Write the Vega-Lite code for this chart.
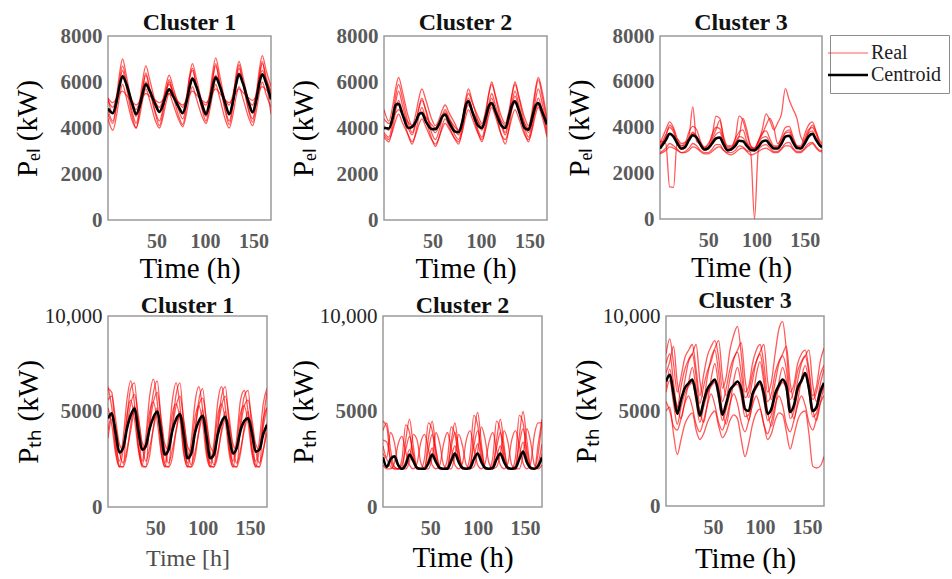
{
  "$schema": "https://vega.github.io/schema/vega-lite/v6.json",
  "padding": {"left": 12, "top": 10, "right": 0, "bottom": 0},
  "background": "white",
  "config": {
    "font": "Liberation Serif",
    "view": {"stroke": "#9a9a9a", "strokeWidth": 1.5},
    "axis": {"domain": false, "ticks": false, "grid": false, "labelFont": "Liberation Serif", "labelFontSize": 21, "labelFontWeight": "bold", "labelColor": "#5a5a5a", "labelPadding": 6, "titleFont": "Liberation Serif", "titleFontSize": 29, "titleFontWeight": "normal", "titleColor": "#000000"},
    "axisX": {"labelPadding": 11, "labelFontSize": 20, "titleY": 34},
    "axisY": {"titleX": -66},
    "title": {"font": "Liberation Serif", "fontSize": 24, "fontWeight": "bold", "color": "#111111", "frame": "group", "offset": -10},
    "legend": {"orient": "none", "legendX": 722, "legendY": -1, "symbolType": "stroke", "symbolSize": 1600, "labelFont": "Liberation Serif", "labelFontSize": 20, "labelColor": "#222222", "strokeColor": "#8c8c8c", "padding": 8, "rowPadding": 2, "labelOffset": 13, "fillColor": "white"}
  },
  "datasets": {
    "el1": [
      {"t":0,"c":4850,"a":5300,"b":4800,"d":5200,"e":4400,"f":5300,"g":4600},
      {"t":5,"c":4650,"a":4600,"b":4300,"d":4900,"e":3900,"f":5100,"g":4200},
      {"t":9,"c":5200,"a":5440,"b":5140,"d":5390,"e":4600,"f":5280,"g":5000},
      {"t":12,"c":5850,"a":6400,"b":6100,"d":5950,"e":5400,"f":5480,"g":5930},
      {"t":15,"c":6250,"a":7000,"b":6700,"d":6300,"e":5900,"f":5600,"g":6500},
      {"t":19,"c":5900,"a":6250,"b":5980,"d":5850,"e":5300,"f":5420,"g":5750},
      {"t":25,"c":5050,"a":5000,"b":4700,"d":5100,"e":4300,"f":5150,"g":4500},
      {"t":29,"c":4600,"a":4500,"b":4200,"d":4800,"e":4000,"f":5000,"g":4000},
      {"t":33,"c":5000,"a":5270,"b":4940,"d":5220,"e":4600,"f":5180,"g":4840},
      {"t":36,"c":5550,"a":6150,"b":5780,"d":5700,"e":5280,"f":5380,"g":5800},
      {"t":39,"c":5900,"a":6700,"b":6300,"d":6000,"e":5700,"f":5500,"g":6400},
      {"t":43,"c":5600,"a":6100,"b":5700,"d":5700,"e":5200,"f":5380,"g":5680},
      {"t":49,"c":5000,"a":5100,"b":4680,"d":5100,"e":4300,"f":5200,"g":4600},
      {"t":53,"c":4700,"a":4700,"b":4300,"d":4900,"e":4000,"f":5100,"g":4100},
      {"t":57,"c":5050,"a":5260,"b":4920,"d":5250,"e":4530,"f":5240,"g":4770},
      {"t":60,"c":5450,"a":5900,"b":5650,"d":5650,"e":5130,"f":5400,"g":5530},
      {"t":63,"c":5680,"a":6300,"b":6100,"d":5900,"e":5500,"f":5500,"g":6000},
      {"t":67,"c":5400,"a":5790,"b":5530,"d":5600,"e":5050,"f":5350,"g":5420},
      {"t":73,"c":4900,"a":4940,"b":4760,"d":5100,"e":4350,"f":5100,"g":4500},
      {"t":77,"c":4650,"a":4600,"b":4400,"d":4900,"e":4050,"f":5000,"g":4150},
      {"t":81,"c":5150,"a":5370,"b":5140,"d":5350,"e":4660,"f":5210,"g":5000},
      {"t":84,"c":5750,"a":6250,"b":6180,"d":5880,"e":5360,"f":5450,"g":6090},
      {"t":87,"c":6150,"a":6800,"b":6500,"d":6200,"e":5800,"f":5600,"g":6600},
      {"t":91,"c":5800,"a":6170,"b":5900,"d":5840,"e":5300,"f":5450,"g":5870},
      {"t":97,"c":5000,"a":5120,"b":4900,"d":5150,"e":4500,"f":5200,"g":4800},
      {"t":101,"c":4600,"a":4700,"b":4500,"d":5000,"e":4200,"f":5100,"g":4300},
      {"t":105,"c":5150,"a":5520,"b":5230,"d":5450,"e":4800,"f":5310,"g":5180},
      {"t":108,"c":5800,"a":6460,"b":6150,"d":5980,"e":5480,"f":5550,"g":6180},
      {"t":111,"c":6200,"a":7050,"b":6700,"d":6300,"e":5900,"f":5700,"g":6800},
      {"t":115,"c":5850,"a":6320,"b":6000,"d":5900,"e":5330,"f":5520,"g":5990},
      {"t":121,"c":5050,"a":5090,"b":4800,"d":5200,"e":4350,"f":5200,"g":4700},
      {"t":125,"c":4600,"a":4600,"b":4300,"d":5000,"e":4000,"f":5100,"g":4150},
      {"t":129,"c":5200,"a":5400,"b":5100,"d":5490,"e":4630,"f":5310,"g":5060},
      {"t":132,"c":5900,"a":6330,"b":6020,"d":6050,"e":5350,"f":5550,"g":6100},
      {"t":135,"c":6330,"a":6900,"b":6600,"d":6400,"e":5800,"f":5700,"g":6750},
      {"t":139,"c":5950,"a":6240,"b":5940,"d":6000,"e":5300,"f":5550,"g":5960},
      {"t":145,"c":5100,"a":5140,"b":4800,"d":5200,"e":4450,"f":5300,"g":4750},
      {"t":149,"c":4680,"a":4700,"b":4400,"d":5000,"e":4100,"f":5200,"g":4250},
      {"t":153,"c":5250,"a":5560,"b":5240,"d":5520,"e":4770,"f":5410,"g":5180},
      {"t":156,"c":5950,"a":6540,"b":6220,"d":6130,"e":5520,"f":5650,"g":6240},
      {"t":159,"c":6330,"a":7150,"b":6800,"d":6500,"e":6000,"f":5800,"g":6900},
      {"t":163,"c":5950,"a":6500,"b":6200,"d":6100,"e":5450,"f":5650,"g":6000},
      {"t":168,"c":5240,"a":5800,"b":5500,"d":5600,"e":4900,"f":5500,"g":4600}
    ],
    "el2": [
      {"t":0,"c":4000,"a":4800,"b":3800,"d":4400,"e":3700,"f":4100,"g":3600},
      {"t":5,"c":3980,"a":4300,"b":3600,"d":4200,"e":3500,"f":3900,"g":3400},
      {"t":9,"c":4450,"a":4960,"b":4300,"d":4410,"e":3890,"f":4600,"g":4030},
      {"t":12,"c":5000,"a":5720,"b":5100,"d":4650,"e":4330,"f":5400,"g":4750},
      {"t":15,"c":5050,"a":6200,"b":5600,"d":4800,"e":4600,"f":5900,"g":5200},
      {"t":19,"c":4600,"a":5590,"b":4990,"d":4600,"e":4230,"f":5300,"g":4650},
      {"t":25,"c":4000,"a":4500,"b":4000,"d":4250,"e":3700,"f":4200,"g":3670},
      {"t":29,"c":4050,"a":4100,"b":3700,"d":4100,"e":3400,"f":3800,"g":3300},
      {"t":33,"c":4300,"a":4660,"b":4260,"d":4310,"e":3750,"f":4290,"g":3860},
      {"t":36,"c":4600,"a":5300,"b":4900,"d":4550,"e":4150,"f":4850,"g":4500},
      {"t":39,"c":4650,"a":5700,"b":5300,"d":4700,"e":4400,"f":5200,"g":4900},
      {"t":43,"c":4300,"a":5240,"b":4760,"d":4490,"e":4070,"f":4800,"g":4390},
      {"t":49,"c":3960,"a":4400,"b":3800,"d":4150,"e":3500,"f":4000,"g":3560},
      {"t":53,"c":3950,"a":4100,"b":3500,"d":4000,"e":3300,"f":3800,"g":3200},
      {"t":57,"c":4200,"a":4410,"b":3920,"d":4210,"e":3620,"f":4150,"g":3620},
      {"t":60,"c":4500,"a":4780,"b":4400,"d":4450,"e":3980,"f":4550,"g":4100},
      {"t":63,"c":4580,"a":5000,"b":4700,"d":4600,"e":4200,"f":4800,"g":4400},
      {"t":67,"c":4250,"a":4670,"b":4340,"d":4390,"e":3960,"f":4470,"g":4070},
      {"t":73,"c":3850,"a":4200,"b":3700,"d":4050,"e":3550,"f":3900,"g":3520},
      {"t":77,"c":3820,"a":3900,"b":3500,"d":3900,"e":3400,"f":3700,"g":3300},
      {"t":81,"c":4300,"a":4460,"b":4130,"d":4290,"e":3890,"f":4400,"g":3970},
      {"t":84,"c":4950,"a":5100,"b":4850,"d":4730,"e":4450,"f":5200,"g":4730},
      {"t":87,"c":5160,"a":5500,"b":5300,"d":5000,"e":4800,"f":5700,"g":5200},
      {"t":91,"c":4700,"a":5100,"b":4790,"d":4730,"e":4400,"f":5160,"g":4660},
      {"t":97,"c":4100,"a":4500,"b":3900,"d":4300,"e":3750,"f":4300,"g":3780},
      {"t":101,"c":4000,"a":4200,"b":3600,"d":4100,"e":3500,"f":3900,"g":3400},
      {"t":105,"c":4500,"a":4800,"b":4270,"d":4420,"e":3990,"f":4640,"g":4070},
      {"t":108,"c":4950,"a":5480,"b":5030,"d":4780,"e":4550,"f":5480,"g":4830},
      {"t":111,"c":5090,"a":5900,"b":5500,"d":5000,"e":4900,"f":6000,"g":5300},
      {"t":115,"c":4700,"a":5390,"b":4960,"d":4730,"e":4480,"f":5340,"g":4700},
      {"t":121,"c":4100,"a":4500,"b":4100,"d":4300,"e":3700,"f":4200,"g":3700},
      {"t":125,"c":4000,"a":4200,"b":3700,"d":4100,"e":3500,"f":3800,"g":3300},
      {"t":129,"c":4550,"a":4800,"b":4370,"d":4450,"e":3960,"f":4570,"g":4040},
      {"t":132,"c":5000,"a":5480,"b":5130,"d":4850,"e":4480,"f":5450,"g":4880},
      {"t":135,"c":5160,"a":5900,"b":5600,"d":5100,"e":4800,"f":6000,"g":5400},
      {"t":139,"c":4750,"a":5370,"b":5000,"d":4800,"e":4410,"f":5340,"g":4800},
      {"t":145,"c":4000,"a":4450,"b":4000,"d":4200,"e":3700,"f":4200,"g":3780},
      {"t":149,"c":3930,"a":4100,"b":3600,"d":4000,"e":3500,"f":3800,"g":3400},
      {"t":153,"c":4500,"a":4840,"b":4340,"d":4350,"e":3990,"f":4610,"g":4070},
      {"t":156,"c":4950,"a":5680,"b":5180,"d":4750,"e":4550,"f":5530,"g":4830},
      {"t":159,"c":5090,"a":6200,"b":5700,"d":5000,"e":4900,"f":6100,"g":5300},
      {"t":163,"c":4700,"a":5600,"b":5070,"d":4700,"e":4480,"f":5400,"g":4750},
      {"t":168,"c":4150,"a":4400,"b":3900,"d":4300,"e":3600,"f":4200,"g":3700}
    ],
    "el3": [
      {"t":0,"c":3080,"a":3400,"b":3200,"d":2900,"e":3300,"f":2850,"g":3100},
      {"t":6,"c":3450,"a":3300,"b":3600,"d":3100,"e":3900,"f":3000,"g":3700},
      {"t":10,"c":3730,"a":1400,"b":4100,"d":3300,"e":4250,"f":3150,"g":4000},
      {"t":14,"c":3600,"a":1380,"b":3900,"d":3200,"e":4000,"f":3100,"g":3800},
      {"t":18,"c":3300,"a":3500,"b":3400,"d":3050,"e":3500,"f":3000,"g":3300},
      {"t":22,"c":3080,"a":3300,"b":3200,"d":2900,"e":3200,"f":2900,"g":3050},
      {"t":26,"c":3150,"a":3350,"b":3200,"d":2950,"e":3300,"f":2900,"g":3100},
      {"t":30,"c":3450,"a":3600,"b":3500,"d":3100,"e":3800,"f":3000,"g":3500},
      {"t":34,"c":3660,"a":4900,"b":3800,"d":3300,"e":4050,"f":3150,"g":3750},
      {"t":38,"c":3550,"a":3400,"b":3600,"d":3200,"e":3900,"f":3100,"g":3600},
      {"t":42,"c":3250,"a":3300,"b":3300,"d":3000,"e":3400,"f":2950,"g":3200},
      {"t":46,"c":3040,"a":3100,"b":3100,"d":2900,"e":3150,"f":2850,"g":3000},
      {"t":50,"c":3100,"a":3100,"b":3300,"d":2900,"e":3200,"f":2850,"g":3050},
      {"t":54,"c":3300,"a":3400,"b":3600,"d":3050,"e":3700,"f":2950,"g":3500},
      {"t":58,"c":3520,"a":3700,"b":4500,"d":3250,"e":4000,"f":3100,"g":3900},
      {"t":62,"c":3560,"a":3800,"b":4400,"d":3250,"e":3950,"f":3150,"g":4300},
      {"t":66,"c":3250,"a":3300,"b":3600,"d":3000,"e":3450,"f":3000,"g":3500},
      {"t":70,"c":3000,"a":3100,"b":3200,"d":2900,"e":3150,"f":2850,"g":3050},
      {"t":74,"c":3050,"a":3100,"b":3200,"d":2900,"e":3150,"f":2800,"g":3000},
      {"t":78,"c":3200,"a":3350,"b":3500,"d":3000,"e":3500,"f":2900,"g":3300},
      {"t":82,"c":3420,"a":3600,"b":4500,"d":3200,"e":3800,"f":3050,"g":3600},
      {"t":86,"c":3400,"a":3550,"b":4300,"d":3150,"e":3900,"f":3100,"g":4400},
      {"t":90,"c":3200,"a":3300,"b":3700,"d":3000,"e":3400,"f":2950,"g":3900},
      {"t":94,"c":3020,"a":3100,"b":3200,"d":2900,"e":3100,"f":2800,"g":3200},
      {"t":98,"c":3000,"a":3050,"b":3100,"d":0,"e":3100,"f":2850,"g":3050},
      {"t":102,"c":3150,"a":3300,"b":3400,"d":3000,"e":3400,"f":2950,"g":3400},
      {"t":106,"c":3380,"a":3550,"b":3900,"d":3200,"e":3750,"f":3050,"g":3700},
      {"t":110,"c":3430,"a":3600,"b":4600,"d":3250,"e":3850,"f":3100,"g":4100},
      {"t":114,"c":3250,"a":3350,"b":4300,"d":3100,"e":3500,"f":3000,"g":4400},
      {"t":118,"c":3080,"a":3150,"b":3900,"d":2950,"e":3200,"f":2900,"g":4000},
      {"t":122,"c":3080,"a":3150,"b":4200,"d":2950,"e":3200,"f":2900,"g":3300},
      {"t":126,"c":3300,"a":3400,"b":4600,"d":3100,"e":3600,"f":3050,"g":3500},
      {"t":130,"c":3600,"a":3750,"b":5700,"d":3300,"e":4000,"f":3200,"g":3800},
      {"t":134,"c":3640,"a":3800,"b":5200,"d":3350,"e":4050,"f":3200,"g":3900},
      {"t":138,"c":3350,"a":3400,"b":4800,"d":3100,"e":3600,"f":3050,"g":3500},
      {"t":142,"c":3100,"a":3150,"b":4400,"d":2950,"e":3200,"f":2900,"g":3200},
      {"t":146,"c":3080,"a":3150,"b":3600,"d":2950,"e":3200,"f":2900,"g":3100},
      {"t":150,"c":3300,"a":3400,"b":3400,"d":3100,"e":3700,"f":3050,"g":3500},
      {"t":154,"c":3600,"a":3750,"b":3800,"d":3300,"e":4100,"f":3200,"g":3900},
      {"t":158,"c":3720,"a":3850,"b":4100,"d":3350,"e":4250,"f":3300,"g":4000},
      {"t":162,"c":3450,"a":3500,"b":3800,"d":3150,"e":3800,"f":3100,"g":3700},
      {"t":166,"c":3200,"a":3250,"b":3400,"d":3000,"e":3300,"f":2950,"g":3200},
      {"t":168,"c":3150,"a":3200,"b":3300,"d":3000,"e":3200,"f":2950,"g":3100}
    ],
    "th1": [
      {"t":0,"c":4640,"a":6200,"b":5200,"d":3600,"e":5600,"f":4000,"g":6300},
      {"t":4,"c":4900,"a":6000,"b":4300,"d":4600,"e":5800,"f":4800,"g":5200},
      {"t":8,"c":3900,"a":3800,"b":2800,"d":4200,"e":4600,"f":3000,"g":3300},
      {"t":12,"c":2850,"a":2150,"b":2100,"d":2900,"e":3300,"f":2100,"g":2400},
      {"t":16,"c":3100,"a":2100,"b":3000,"d":2300,"e":3000,"f":2100,"g":3600},
      {"t":20,"c":4100,"a":4600,"b":4800,"d":3000,"e":4200,"f":2800,"g":5600},
      {"t":24,"c":4800,"a":6200,"b":5600,"d":4000,"e":5400,"f":4300,"g":6600},
      {"t":28,"c":5150,"a":6500,"b":4600,"d":5000,"e":5900,"f":5300,"g":5400},
      {"t":32,"c":4000,"a":4300,"b":3000,"d":4600,"e":4800,"f":3200,"g":3300},
      {"t":36,"c":3000,"a":2200,"b":2200,"d":3200,"e":3400,"f":2100,"g":2400},
      {"t":40,"c":3200,"a":2100,"b":3300,"d":2400,"e":3100,"f":2100,"g":3700},
      {"t":44,"c":4100,"a":4500,"b":5000,"d":3100,"e":4300,"f":2700,"g":5800},
      {"t":48,"c":4700,"a":6000,"b":5500,"d":4100,"e":5500,"f":4200,"g":6700},
      {"t":52,"c":5000,"a":6600,"b":4500,"d":4900,"e":6000,"f":5200,"g":5500},
      {"t":56,"c":3900,"a":4500,"b":2900,"d":4400,"e":4700,"f":3000,"g":3400},
      {"t":60,"c":2750,"a":2200,"b":2100,"d":3000,"e":3300,"f":2100,"g":2300},
      {"t":64,"c":3000,"a":2100,"b":3200,"d":2300,"e":3000,"f":2100,"g":3600},
      {"t":68,"c":4000,"a":4300,"b":4900,"d":3000,"e":4200,"f":2600,"g":5600},
      {"t":72,"c":4600,"a":5900,"b":5400,"d":4000,"e":5300,"f":4000,"g":6500},
      {"t":76,"c":4850,"a":6500,"b":4600,"d":4800,"e":5800,"f":5000,"g":5300},
      {"t":80,"c":3800,"a":4300,"b":2800,"d":4400,"e":4600,"f":2900,"g":3200},
      {"t":84,"c":2550,"a":2150,"b":2100,"d":3000,"e":3200,"f":2100,"g":2300},
      {"t":88,"c":2800,"a":2100,"b":3000,"d":2200,"e":2900,"f":2100,"g":3500},
      {"t":92,"c":3900,"a":4000,"b":4700,"d":2900,"e":4100,"f":2600,"g":5500},
      {"t":96,"c":4500,"a":5600,"b":5300,"d":3900,"e":5300,"f":4000,"g":6300},
      {"t":100,"c":4780,"a":6200,"b":4400,"d":4700,"e":5700,"f":5100,"g":5100},
      {"t":104,"c":3700,"a":4200,"b":2700,"d":4300,"e":4600,"f":3000,"g":3100},
      {"t":108,"c":2550,"a":2150,"b":2100,"d":2900,"e":3200,"f":2100,"g":2300},
      {"t":112,"c":2750,"a":2100,"b":3100,"d":2200,"e":2900,"f":2100,"g":3400},
      {"t":116,"c":3800,"a":4200,"b":4800,"d":2900,"e":4100,"f":2700,"g":5500},
      {"t":120,"c":4450,"a":5800,"b":5400,"d":3900,"e":5300,"f":4100,"g":6300},
      {"t":124,"c":4720,"a":6300,"b":4500,"d":4600,"e":5800,"f":5000,"g":5200},
      {"t":128,"c":3700,"a":4200,"b":2800,"d":4300,"e":4700,"f":3100,"g":3200},
      {"t":132,"c":2800,"a":2200,"b":2100,"d":3000,"e":3300,"f":2100,"g":2400},
      {"t":136,"c":3100,"a":2100,"b":3200,"d":2300,"e":3000,"f":2100,"g":3600},
      {"t":140,"c":4000,"a":4400,"b":4900,"d":3000,"e":4200,"f":2800,"g":5600},
      {"t":144,"c":4500,"a":5800,"b":5300,"d":4000,"e":5300,"f":4200,"g":6100},
      {"t":148,"c":4640,"a":6100,"b":4400,"d":4700,"e":5600,"f":5000,"g":5000},
      {"t":152,"c":3900,"a":4000,"b":2800,"d":4300,"e":4600,"f":3100,"g":3100},
      {"t":156,"c":2900,"a":2200,"b":2100,"d":3000,"e":3300,"f":2100,"g":2400},
      {"t":160,"c":3000,"a":2100,"b":3000,"d":2300,"e":3000,"f":2100,"g":3500},
      {"t":164,"c":3800,"a":4500,"b":4600,"d":3000,"e":4200,"f":2900,"g":5400},
      {"t":168,"c":4300,"a":6000,"b":5200,"d":3900,"e":5200,"f":4400,"g":6200}
    ],
    "th2": [
      {"t":0,"c":2600,"a":4500,"b":3200,"d":3500,"e":2200,"f":2800,"g":4000},
      {"t":4,"c":2100,"a":4200,"b":2600,"d":3400,"e":2000,"f":2500,"g":4400},
      {"t":8,"c":2500,"a":2400,"b":3900,"d":2500,"e":2000,"f":2100,"g":3000},
      {"t":12,"c":2650,"a":2000,"b":3400,"d":2100,"e":2300,"f":2000,"g":2100},
      {"t":16,"c":2200,"a":2000,"b":2200,"d":2000,"e":3300,"f":2000,"g":2000},
      {"t":20,"c":2000,"a":2000,"b":2000,"d":2200,"e":3700,"f":2000,"g":2500},
      {"t":24,"c":2200,"a":3500,"b":2000,"d":3000,"e":2900,"f":2400,"g":4300},
      {"t":28,"c":2750,"a":4600,"b":2400,"d":3700,"e":2200,"f":3000,"g":3900},
      {"t":32,"c":2400,"a":3200,"b":3800,"d":2800,"e":2000,"f":2400,"g":2600},
      {"t":36,"c":2050,"a":2000,"b":3500,"d":2100,"e":2300,"f":2000,"g":2000},
      {"t":40,"c":2000,"a":2000,"b":2300,"d":2000,"e":3400,"f":2000,"g":2000},
      {"t":44,"c":2000,"a":2000,"b":2000,"d":2100,"e":3800,"f":2000,"g":2600},
      {"t":48,"c":2300,"a":3600,"b":2000,"d":3000,"e":3000,"f":2500,"g":4400},
      {"t":52,"c":2750,"a":4500,"b":2600,"d":3800,"e":2200,"f":3100,"g":4000},
      {"t":56,"c":2350,"a":3000,"b":3900,"d":2900,"e":2000,"f":2400,"g":2600},
      {"t":60,"c":2050,"a":2000,"b":3300,"d":2100,"e":2200,"f":2000,"g":2000},
      {"t":64,"c":2000,"a":2000,"b":2200,"d":2000,"e":3300,"f":2000,"g":2000},
      {"t":68,"c":2000,"a":2000,"b":2000,"d":2100,"e":3900,"f":2000,"g":2500},
      {"t":72,"c":2400,"a":3400,"b":2000,"d":3100,"e":3100,"f":2600,"g":4200},
      {"t":76,"c":2800,"a":4400,"b":2700,"d":3900,"e":2200,"f":3200,"g":3800},
      {"t":80,"c":2350,"a":3000,"b":3800,"d":2900,"e":2000,"f":2500,"g":2500},
      {"t":84,"c":2050,"a":2000,"b":3200,"d":2100,"e":2300,"f":2000,"g":2000},
      {"t":88,"c":2000,"a":2000,"b":2200,"d":2000,"e":3500,"f":2000,"g":2000},
      {"t":92,"c":2050,"a":2100,"b":2000,"d":2200,"e":4000,"f":2000,"g":2700},
      {"t":96,"c":2500,"a":3800,"b":2100,"d":3200,"e":3100,"f":2600,"g":4800},
      {"t":100,"c":2800,"a":4950,"b":2900,"d":4000,"e":2200,"f":3300,"g":4300},
      {"t":104,"c":2350,"a":3300,"b":4200,"d":3000,"e":2000,"f":2500,"g":2700},
      {"t":108,"c":2050,"a":2000,"b":3500,"d":2100,"e":2300,"f":2000,"g":2000},
      {"t":112,"c":2000,"a":2000,"b":2300,"d":2000,"e":3400,"f":2000,"g":2000},
      {"t":116,"c":2050,"a":2000,"b":2000,"d":2200,"e":3900,"f":2000,"g":2600},
      {"t":120,"c":2500,"a":3500,"b":2100,"d":3100,"e":3000,"f":2600,"g":4500},
      {"t":124,"c":2800,"a":4600,"b":2800,"d":3900,"e":2200,"f":3200,"g":4000},
      {"t":128,"c":2350,"a":3200,"b":4000,"d":2900,"e":2000,"f":2500,"g":2600},
      {"t":132,"c":2050,"a":2000,"b":3400,"d":2100,"e":2300,"f":2000,"g":2000},
      {"t":136,"c":2000,"a":2000,"b":2200,"d":2000,"e":3500,"f":2000,"g":2000},
      {"t":140,"c":2050,"a":2000,"b":2000,"d":2200,"e":4000,"f":2000,"g":2600},
      {"t":144,"c":2500,"a":3700,"b":2000,"d":3300,"e":3200,"f":2700,"g":4800},
      {"t":148,"c":2900,"a":5000,"b":2700,"d":4100,"e":2300,"f":3400,"g":4400},
      {"t":152,"c":2350,"a":3500,"b":4100,"d":3000,"e":2000,"f":2500,"g":2700},
      {"t":156,"c":2050,"a":2100,"b":3400,"d":2100,"e":2300,"f":2000,"g":2000},
      {"t":160,"c":2000,"a":2000,"b":2200,"d":2000,"e":3800,"f":2000,"g":2000},
      {"t":164,"c":2150,"a":2800,"b":2000,"d":2300,"e":4400,"f":2100,"g":3300},
      {"t":168,"c":2600,"a":4500,"b":2200,"d":3300,"e":4400,"f":2800,"g":4600}
    ],
    "th3": [
      {"t":0,"c":6550,"a":8000,"b":5000,"d":7500,"e":6000,"f":5500,"g":7000,"h":6200},
      {"t":4,"c":6900,"a":8800,"b":5200,"d":8000,"e":6600,"f":5000,"g":7600,"h":7200},
      {"t":8,"c":5900,"a":7500,"b":3800,"d":6500,"e":5400,"f":4200,"g":8400,"h":6000},
      {"t":12,"c":4850,"a":6000,"b":2700,"d":5200,"e":4300,"f":4000,"g":6500,"h":5200},
      {"t":16,"c":5600,"a":6800,"b":3500,"d":6300,"e":5200,"f":4600,"g":5600,"h":4600},
      {"t":20,"c":6200,"a":7800,"b":4300,"d":7200,"e":5900,"f":5400,"g":6600,"h":5500},
      {"t":24,"c":6450,"a":8200,"b":4700,"d":7700,"e":6300,"f":5800,"g":7600,"h":6500},
      {"t":28,"c":6650,"a":8500,"b":4900,"d":8000,"e":6500,"f":5200,"g":8000,"h":7300},
      {"t":32,"c":5800,"a":7200,"b":4000,"d":6800,"e":5500,"f":4300,"g":8500,"h":6200},
      {"t":36,"c":4750,"a":5800,"b":3500,"d":5400,"e":4400,"f":3900,"g":6600,"h":5000},
      {"t":40,"c":5500,"a":6900,"b":3800,"d":6300,"e":5200,"f":4500,"g":5700,"h":4400},
      {"t":44,"c":6150,"a":7900,"b":4400,"d":7100,"e":5900,"f":5300,"g":6800,"h":5400},
      {"t":48,"c":6450,"a":8400,"b":4800,"d":7600,"e":6300,"f":5900,"g":7800,"h":6700},
      {"t":52,"c":6650,"a":8700,"b":5000,"d":8200,"e":6500,"f":5300,"g":8300,"h":7500},
      {"t":56,"c":5900,"a":7800,"b":4200,"d":7000,"e":5600,"f":4400,"g":8700,"h":6300},
      {"t":60,"c":4800,"a":6200,"b":3600,"d":5500,"e":4500,"f":4000,"g":6800,"h":5000},
      {"t":64,"c":5400,"a":6800,"b":3900,"d":6200,"e":5100,"f":4600,"g":5800,"h":4300},
      {"t":68,"c":6100,"a":8200,"b":4500,"d":7200,"e":5900,"f":5400,"g":6700,"h":5300},
      {"t":72,"c":6350,"a":9000,"b":4800,"d":7800,"e":6300,"f":5900,"g":7700,"h":6600},
      {"t":76,"c":6550,"a":9450,"b":4600,"d":8100,"e":6400,"f":5400,"g":8200,"h":7300},
      {"t":80,"c":6150,"a":8000,"b":3500,"d":7000,"e":5800,"f":4400,"g":8600,"h":6400},
      {"t":84,"c":5100,"a":6000,"b":2600,"d":5700,"e":4700,"f":3900,"g":6700,"h":5200},
      {"t":88,"c":5000,"a":6300,"b":3300,"d":6000,"e":4800,"f":4500,"g":5700,"h":4500},
      {"t":92,"c":5900,"a":7500,"b":4300,"d":7000,"e":5700,"f":5300,"g":6600,"h":5500},
      {"t":96,"c":6300,"a":8200,"b":4900,"d":7600,"e":6200,"f":5800,"g":7600,"h":6900},
      {"t":100,"c":6550,"a":8500,"b":5100,"d":8000,"e":6400,"f":5200,"g":8100,"h":7600},
      {"t":104,"c":5900,"a":7500,"b":4300,"d":6900,"e":5600,"f":4300,"g":8500,"h":6500},
      {"t":108,"c":4850,"a":6000,"b":3500,"d":5500,"e":4500,"f":3800,"g":6600,"h":5000},
      {"t":112,"c":5100,"a":6500,"b":3800,"d":5900,"e":4800,"f":4400,"g":5600,"h":4200},
      {"t":116,"c":5900,"a":8000,"b":4500,"d":7000,"e":5700,"f":5300,"g":6500,"h":5100},
      {"t":120,"c":6350,"a":9300,"b":4900,"d":7600,"e":6200,"f":5800,"g":7500,"h":6500},
      {"t":124,"c":6650,"a":9700,"b":4800,"d":7900,"e":6500,"f":5300,"g":8000,"h":7300},
      {"t":128,"c":6300,"a":8200,"b":3900,"d":7200,"e":6100,"f":4300,"g":8400,"h":6600},
      {"t":132,"c":4950,"a":6000,"b":3000,"d":5600,"e":4600,"f":3900,"g":6500,"h":5300},
      {"t":136,"c":5300,"a":6400,"b":3700,"d":6100,"e":5000,"f":4500,"g":5600,"h":4600},
      {"t":140,"c":6200,"a":7500,"b":4500,"d":7100,"e":6000,"f":5300,"g":6600,"h":5500},
      {"t":144,"c":6600,"a":8000,"b":4900,"d":7600,"e":6500,"f":5800,"g":7500,"h":6700},
      {"t":148,"c":7000,"a":8200,"b":5000,"d":7900,"e":6900,"f":5300,"g":7900,"h":7400},
      {"t":152,"c":6200,"a":7200,"b":3800,"d":7000,"e":6000,"f":4400,"g":8200,"h":6500},
      {"t":156,"c":5000,"a":5800,"b":2100,"d":5600,"e":4700,"f":4000,"g":6400,"h":5100},
      {"t":160,"c":5200,"a":6300,"b":2000,"d":6000,"e":4900,"f":4600,"g":5500,"h":4500},
      {"t":164,"c":6000,"a":7600,"b":2100,"d":6900,"e":5800,"f":5400,"g":6400,"h":5400},
      {"t":168,"c":6480,"a":8300,"b":2600,"d":7400,"e":6300,"f":5800,"g":7200,"h":6300}
    ]
  },
  "vconcat": [
    {
      "hconcat": [
        {
          "width": 163, "height": 184,
          "title": {"text": "Cluster 1"},
          "data": {"name": "el1"},
          "encoding": {
            "x": {"field": "t", "type": "quantitative", "scale": {"domain": [0, 168], "nice": false, "zero": false}, "axis": {"values": [50, 100, 150], "title": "Time (h)"}},
            "y": {"field": "v", "type": "quantitative", "scale": {"domain": [0, 8000], "nice": false}, "axis": {"values": [0, 2000, 4000, 6000, 8000], "format": "d", "title": "Pₑₗ (kW)"}}
          },
          "layer": [
            {"transform": [{"fold": ["a", "b", "d", "e", "f", "g"], "as": ["s", "v"]}], "mark": {"type": "line", "interpolate": "monotone", "strokeWidth": 1.3, "clip": true},
             "encoding": {"detail": {"field": "s", "type": "nominal"}, "color": {"datum": "Real", "type": "nominal", "scale": {"domain": ["Real", "Centroid"], "range": ["rgba(255,0,0,0.65)", "#000000"]}, "legend": {"title": null, "encode": {"symbols": {"update": {"strokeWidth": {"signal": "datum.value === 'Centroid' ? 2.6 : 1.2"}}}}}}}},
            {"transform": [{"fold": ["c"], "as": ["s", "v"]}], "mark": {"type": "line", "interpolate": "monotone", "strokeWidth": 2.6, "clip": true},
             "encoding": {"color": {"datum": "Centroid", "type": "nominal"}}}
          ]
        },
        {
          "width": 163, "height": 184,
          "title": {"text": "Cluster 2"},
          "data": {"name": "el2"},
          "encoding": {
            "x": {"field": "t", "type": "quantitative", "scale": {"domain": [0, 168], "nice": false, "zero": false}, "axis": {"values": [50, 100, 150], "title": "Time (h)"}},
            "y": {"field": "v", "type": "quantitative", "scale": {"domain": [0, 8000], "nice": false}, "axis": {"values": [0, 2000, 4000, 6000, 8000], "format": "d", "title": "Pₑₗ (kW)"}}
          },
          "layer": [
            {"transform": [{"fold": ["a", "b", "d", "e", "f", "g"], "as": ["s", "v"]}], "mark": {"type": "line", "interpolate": "monotone", "strokeWidth": 1.3, "clip": true},
             "encoding": {"detail": {"field": "s", "type": "nominal"}, "color": {"datum": "Real", "type": "nominal"}}},
            {"transform": [{"fold": ["c"], "as": ["s", "v"]}], "mark": {"type": "line", "interpolate": "monotone", "strokeWidth": 2.6, "clip": true},
             "encoding": {"color": {"datum": "Centroid", "type": "nominal"}}}
          ]
        },
        {
          "width": 162, "height": 183,
          "title": {"text": "Cluster 3"},
          "data": {"name": "el3"},
          "encoding": {
            "x": {"field": "t", "type": "quantitative", "scale": {"domain": [0, 168], "nice": false, "zero": false}, "axis": {"values": [50, 100, 150], "title": "Time (h)"}},
            "y": {"field": "v", "type": "quantitative", "scale": {"domain": [0, 8000], "nice": false}, "axis": {"values": [0, 2000, 4000, 6000, 8000], "format": "d", "title": "Pₑₗ (kW)"}}
          },
          "layer": [
            {"transform": [{"fold": ["a", "b", "d", "e", "f", "g"], "as": ["s", "v"]}], "mark": {"type": "line", "interpolate": "monotone", "strokeWidth": 1.3, "clip": true},
             "encoding": {"detail": {"field": "s", "type": "nominal"}, "color": {"datum": "Real", "type": "nominal"}}},
            {"transform": [{"fold": ["c"], "as": ["s", "v"]}], "mark": {"type": "line", "interpolate": "monotone", "strokeWidth": 2.6, "clip": true},
             "encoding": {"color": {"datum": "Centroid", "type": "nominal"}}}
          ]
        }
      ],
      "spacing": 113,
      "bounds": "flush"
    },
    {
      "hconcat": [
        {
          "width": 159, "height": 191,
          "title": {"text": "Cluster 1", "offset": -13},
          "data": {"name": "th1"},
          "encoding": {
            "x": {"field": "t", "type": "quantitative", "scale": {"domain": [0, 168], "nice": false, "zero": false}, "axis": {"values": [50, 100, 150], "title": "Time [h]", "titleFontSize": 24, "titleColor": "#4d4d4d", "titleY": 39}},
            "y": {"field": "v", "type": "quantitative", "scale": {"domain": [0, 10000], "nice": false}, "axis": {"values": [0, 5000, 10000], "format": "d", "labelExpr": "datum.value == 10000 ? '10,000' : datum.label", "labelFontWeight": {"condition": {"test": "datum.value == 10000", "value": "normal"}, "value": "bold"}, "labelColor": {"condition": {"test": "datum.value == 10000", "value": "#262626"}, "value": "#5a5a5a"}, "title": "Pₜₕ (kW)", "titleX": -65}}
          },
          "layer": [
            {"transform": [{"fold": ["a", "b", "d", "e", "f", "g"], "as": ["s", "v"]}], "mark": {"type": "line", "interpolate": "monotone", "strokeWidth": 1.3, "clip": true},
             "encoding": {"detail": {"field": "s", "type": "nominal"}, "color": {"datum": "Real", "type": "nominal"}}},
            {"transform": [{"fold": ["c"], "as": ["s", "v"]}], "mark": {"type": "line", "interpolate": "monotone", "strokeWidth": 2.6, "clip": true},
             "encoding": {"color": {"datum": "Centroid", "type": "nominal"}}}
          ]
        },
        {
          "hconcat": [
            {
              "width": 159, "height": 191,
              "title": {"text": "Cluster 2", "offset": -13},
              "data": {"name": "th2"},
              "encoding": {
                "x": {"field": "t", "type": "quantitative", "scale": {"domain": [0, 168], "nice": false, "zero": false}, "axis": {"values": [50, 100, 150], "title": "Time (h)", "titleY": 36}},
                "y": {"field": "v", "type": "quantitative", "scale": {"domain": [0, 10000], "nice": false}, "axis": {"values": [0, 5000, 10000], "format": "d", "labelExpr": "datum.value == 10000 ? '10,000' : datum.label", "labelFontWeight": {"condition": {"test": "datum.value == 10000", "value": "normal"}, "value": "bold"}, "labelColor": {"condition": {"test": "datum.value == 10000", "value": "#262626"}, "value": "#5a5a5a"}, "title": "Pₜₕ (kW)", "titleX": -65}}
              },
              "layer": [
                {"transform": [{"fold": ["a", "b", "d", "e", "f", "g"], "as": ["s", "v"]}], "mark": {"type": "line", "interpolate": "monotone", "strokeWidth": 1.3, "clip": true},
                 "encoding": {"detail": {"field": "s", "type": "nominal"}, "color": {"datum": "Real", "type": "nominal"}}},
                {"transform": [{"fold": ["c"], "as": ["s", "v"]}], "mark": {"type": "line", "interpolate": "monotone", "strokeWidth": 2.6, "clip": true},
                 "encoding": {"color": {"datum": "Centroid", "type": "nominal"}}}
              ]
            },
            {
              "width": 158, "height": 190,
              "title": {"text": "Cluster 3", "offset": -8},
              "data": {"name": "th3"},
              "encoding": {
                "x": {"field": "t", "type": "quantitative", "scale": {"domain": [0, 168], "nice": false, "zero": false}, "axis": {"values": [50, 100, 150], "title": "Time (h)", "titleY": 38}},
                "y": {"field": "v", "type": "quantitative", "scale": {"domain": [0, 10000], "nice": false}, "axis": {"values": [0, 5000, 10000], "format": "d", "labelExpr": "datum.value == 10000 ? '10,000' : datum.label", "labelFontWeight": {"condition": {"test": "datum.value == 10000", "value": "normal"}, "value": "bold"}, "labelColor": {"condition": {"test": "datum.value == 10000", "value": "#262626"}, "value": "#5a5a5a"}, "title": "Pₜₕ (kW)", "titleX": -65}}
              },
              "layer": [
                {"transform": [{"fold": ["a", "b", "d", "e", "f", "g", "h"], "as": ["s", "v"]}], "mark": {"type": "line", "interpolate": "monotone", "strokeWidth": 1.3, "clip": true},
                 "encoding": {"detail": {"field": "s", "type": "nominal"}, "color": {"datum": "Real", "type": "nominal"}}},
                {"transform": [{"fold": ["c"], "as": ["s", "v"]}], "mark": {"type": "line", "interpolate": "monotone", "strokeWidth": 2.6, "clip": true},
                 "encoding": {"color": {"datum": "Centroid", "type": "nominal"}}}
              ]
            }
          ],
          "spacing": 124,
          "bounds": "flush"
        }
      ],
      "spacing": 116,
      "bounds": "flush"
    }
  ],
  "spacing": 280,
  "bounds": "flush"
}
